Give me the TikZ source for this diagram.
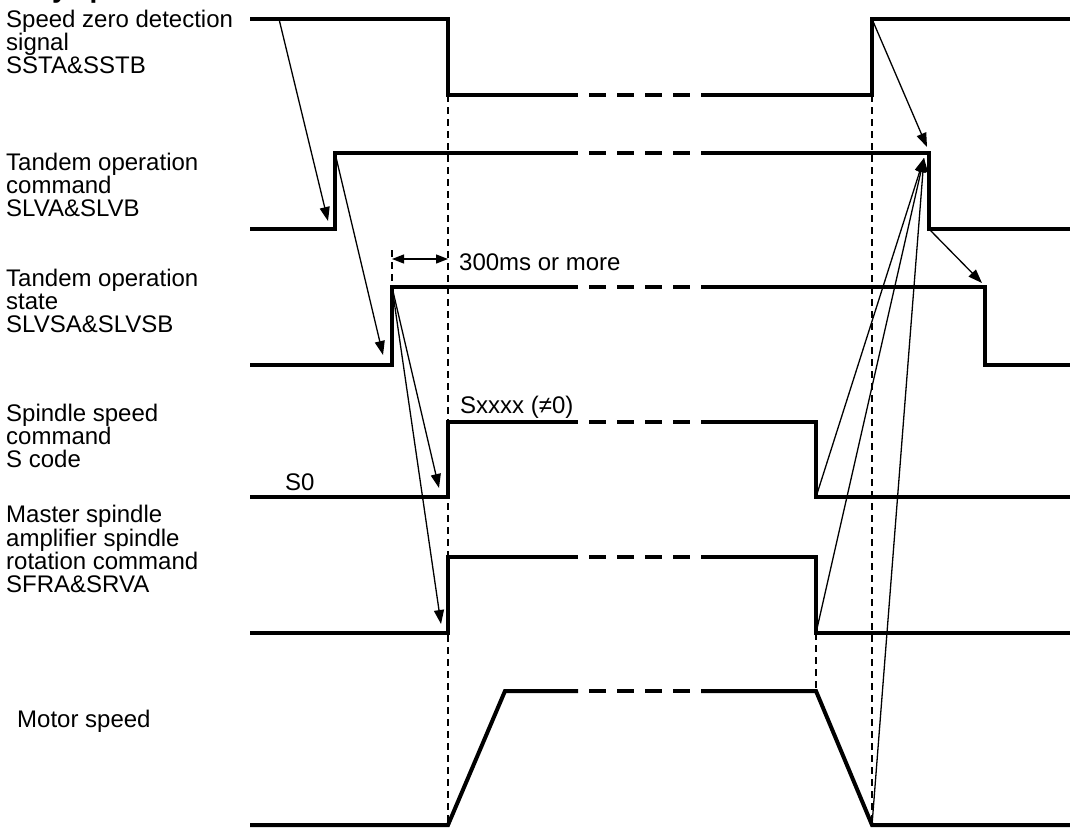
\documentclass[tikz,border=0pt]{standalone}
\usepackage{fontspec}
\setmainfont{Liberation Sans}
\usetikzlibrary{arrows.meta}
\begin{document}
\begin{tikzpicture}[x=1pt,y=-1pt,
  sig/.style={line width=4pt, line cap=butt, line join=miter},
  sigdash/.style={line width=4pt, dash pattern=on 17pt off 11pt},
  guide/.style={line width=1.2pt, dash pattern=on 7pt off 5pt},
  cause/.style={line width=1.3pt, -{Triangle[length=14pt,width=10pt]}},
  dimarrow/.style={line width=1.3pt, {Triangle[length=12pt,width=9pt]}-{Triangle[length=12pt,width=9pt]}},
  lbl/.style={anchor=base west, inner sep=0pt, align=left, font=\fontsize{24}{23.2}\selectfont},
]
\useasboundingbox (0,0) rectangle (1070,827);

% cut-off heading fragment at the top edge
\node[anchor=base west, inner sep=0pt, font=\bfseries\fontsize{28}{30}\selectfont] (cut) at (52,-2) {y\hspace{22pt}p};

% labels (anchor = baseline of the last line)
\node[lbl] (l1) at (6,73.5) {Speed zero detection\\signal\\SSTA\&SSTB};
\node[lbl] (l2) at (6,216.5) {Tandem operation\\command\\SLVA\&SLVB};
\node[lbl] (l3) at (6,332.5) {Tandem operation\\state\\SLVSA\&SLVSB};
\node[lbl] (l4) at (6,467.5) {Spindle speed\\command\\S code};
\node[lbl] (l5) at (6,592.5) {Master spindle\\amplifier spindle\\rotation command\\SFRA\&SRVA};
\node[lbl] (l6) at (17,727.5) {Motor speed};
\node[lbl] (s0) at (285,490) {S0};
\node[lbl] (sx) at (460,413) {Sxxxx (≠0)};
\node[lbl] (t300) at (459,270) {300ms or more};

% guide lines
\draw[guide] (448,95) -- (448,825);
\draw[guide] (872,95) -- (872,825);
\draw[guide] (392,250) -- (392,287);
\draw[guide] (816,633) -- (816,691);

% signals
\draw[sig] (250,19) -- (448,19) -- (448,95) -- (578,95);
\draw[sigdash] (589,95) -- (690,95);
\draw[sig] (701,95) -- (872,95) -- (872,19) -- (1070,19);

\draw[sig] (250,229) -- (335,229) -- (335,153) -- (578,153);
\draw[sigdash] (589,153) -- (690,153);
\draw[sig] (701,153) -- (929,153) -- (929,229) -- (1070,229);

\draw[sig] (250,365) -- (392,365) -- (392,287) -- (578,287);
\draw[sigdash] (589,287) -- (690,287);
\draw[sig] (701,287) -- (985,287) -- (985,365) -- (1070,365);

\draw[sig] (250,497) -- (448,497) -- (448,422) -- (578,422);
\draw[sigdash] (589,422) -- (690,422);
\draw[sig] (701,422) -- (816,422) -- (816,497) -- (1070,497);

\draw[sig] (250,633) -- (448,633) -- (448,557) -- (578,557);
\draw[sigdash] (589,557) -- (690,557);
\draw[sig] (701,557) -- (816,557) -- (816,633) -- (1070,633);

\draw[sig] (250,825) -- (448,825) -- (505,691) -- (578,691);
\draw[sigdash] (589,691) -- (690,691);
\draw[sig] (701,691) -- (816,691) -- (872,825) -- (1070,825);

% named points for cause arrows
\coordinate (a1s) at (279,19);   \coordinate (a1e) at (328,221);
\coordinate (a2s) at (335,153);  \coordinate (a2e) at (383,355);
\coordinate (a3s) at (392,287);  \coordinate (a3e) at (439,488);
\coordinate (a4e) at (441,624);
\coordinate (b1s) at (872,19);   \coordinate (b1e) at (927,147);
\coordinate (b2s) at (929,229);  \coordinate (b2e) at (982,283);
\coordinate (c1s) at (816,497);  \coordinate (c2s) at (816,633);
\coordinate (c3s) at (872,825);  \coordinate (ce) at (924,158);
\coordinate (d1) at (392,259);   \coordinate (d2) at (448,259);

\draw[cause] (a1s) -- (a1e);
\draw[cause] (a2s) -- (a2e);
\draw[cause] (a3s) -- (a3e);
\draw[cause] (a3s) -- (a4e);
\draw[cause] (b1s) -- (b1e);
\draw[cause] (b2s) -- (b2e);
\draw[cause] (c1s) -- (ce);
\draw[cause] (c2s) -- (ce);
\draw[cause] (c3s) -- (ce);
\draw[dimarrow] (d1) -- (d2);
\end{tikzpicture}
\end{document}
